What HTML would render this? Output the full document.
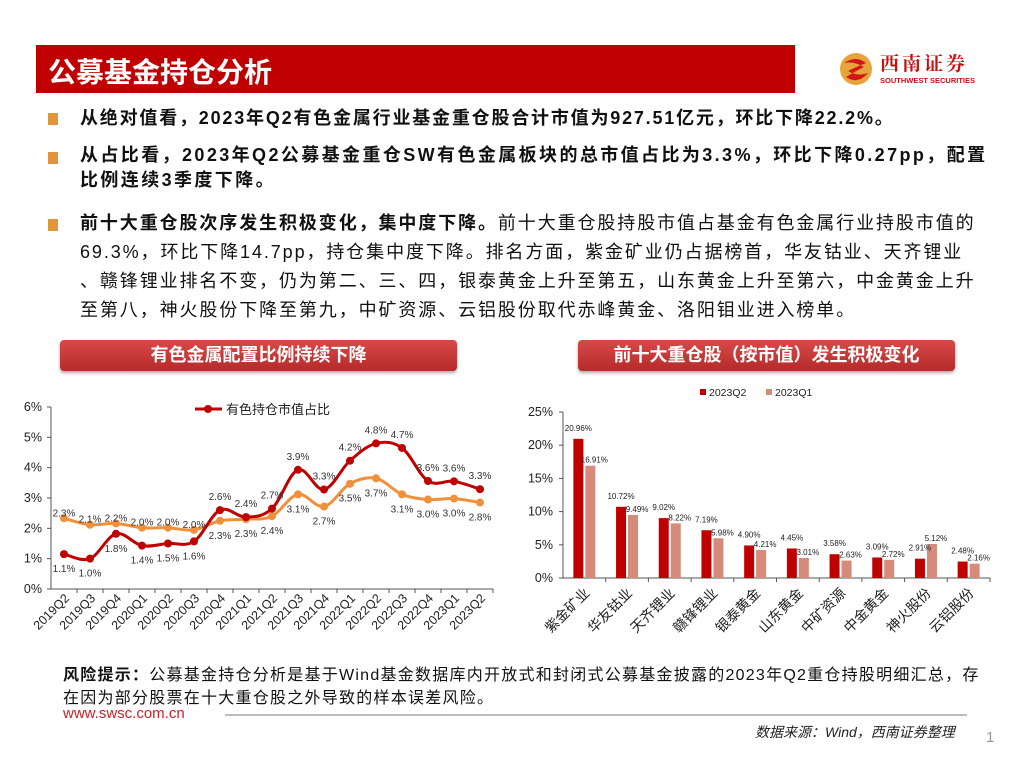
<!DOCTYPE html>
<html><head><meta charset="utf-8">
<style>
body{margin:0;width:1024px;height:768px;background:#fff;position:relative;overflow:hidden;font-family:"Liberation Sans","Noto Sans CJK SC",sans-serif;}
.abs{position:absolute;}
.title-bar{left:36px;top:45px;width:759px;height:48px;background:#c00000;}
.title-bar span{position:absolute;left:12px;top:6px;color:#fff;font-size:28px;font-weight:bold;}
.bullet{position:absolute;left:48px;width:10px;height:12px;background:#e0953a;}
.txt{position:absolute;left:80px;font-size:18px;color:#111;line-height:28px;white-space:nowrap;letter-spacing:1.6px;}
.b{font-weight:bold;}
.sec{position:absolute;top:340px;height:31px;border-radius:4px;background:linear-gradient(#d84a48,#b52a2a);box-shadow:0 2px 3px #aaa;color:#fff;font-weight:bold;font-size:18px;text-align:center;line-height:31px;}
</style></head><body>
<div class="abs title-bar"><span>公募基金持仓分析</span></div>
<div class="abs" style="left:838px;top:51px;width:150px;height:36px;">
<svg width="150" height="36"><circle cx="18" cy="18" r="16" fill="#e8a33a"/><path d="M6 12 Q18 4 28 12 Q18 16 10 20 Q20 26 30 22 Q20 34 8 26 Q18 20 26 16 Q16 10 6 12Z" fill="#d01818"/></svg>
<div class="abs" style="left:42px;top:-2px;color:#c81010;font-size:19px;font-weight:bold;font-family:'Noto Serif CJK SC',serif;letter-spacing:3px;">西南证券</div>
<div class="abs" style="left:42px;top:25px;color:#c81010;font-size:7.5px;font-weight:bold;white-space:nowrap;">SOUTHWEST SECURITIES</div>
</div>

<div class="bullet" style="top:113px"></div>
<div class="txt b" style="top:104px;letter-spacing:1.8px">从绝对值看，2023年Q2有色金属行业基金重仓股合计市值为927.51亿元，环比下降22.2%。</div>
<div class="bullet" style="top:152px"></div>
<div class="txt b" style="top:143px;line-height:25px;letter-spacing:2.4px">从占比看，2023年Q2公募基金重仓SW有色金属板块的总市值占比为3.3%，环比下降0.27pp，配置<br>比例连续3季度下降。</div>
<div class="bullet" style="top:219px"></div>
<div class="txt" style="top:209px;line-height:29px;letter-spacing:1.9px"><span class="b">前十大重仓股次序发生积极变化，集中度下降。</span>前十大重仓股持股市值占基金有色金属行业持股市值的<br>69.3%，环比下降14.7pp，持仓集中度下降。排名方面，紫金矿业仍占据榜首，华友钴业、天齐锂业<br>、赣锋锂业排名不变，仍为第二、三、四，银泰黄金上升至第五，山东黄金上升至第六，中金黄金上升<br>至第八，神火股份下降至第九，中矿资源、云铝股份取代赤峰黄金、洛阳钼业进入榜单。</div>

<div class="sec" style="left:60px;width:397px">有色金属配置比例持续下降</div>
<div class="sec" style="left:578px;width:377px">前十大重仓股（按市值）发生积极变化</div>

<svg class="abs" style="left:0;top:395px" width="510" height="260" id="lc"></svg>
<svg class="abs" style="left:510px;top:380px" width="500" height="275" id="bc"></svg>

<div class="abs" style="left:63px;top:664px;font-size:16px;line-height:23px;white-space:nowrap;letter-spacing:1.25px;color:#111"><span class="b">风险提示：</span>公募基金持仓分析是基于Wind基金数据库内开放式和封闭式公募基金披露的2023年Q2重仓持股明细汇总，存<br>在因为部分股票在十大重仓股之外导致的样本误差风险。</div>
<div class="abs" style="left:63px;top:705px;font-size:15px;color:#d0202a">www.swsc.com.cn</div>
<div class="abs" style="left:225px;top:714px;width:742px;height:2px;background:#bbb"></div>
<div class="abs" style="left:755px;top:722px;font-size:14px;font-style:italic;color:#222">数据来源：Wind，西南证券整理</div>
<div class="abs" style="left:986px;top:729px;font-size:15px;color:#999">1</div>

<script>
const lineCats=["2019Q2","2019Q3","2019Q4","2020Q1","2020Q2","2020Q3","2020Q4","2021Q1","2021Q2","2021Q3","2021Q4","2022Q1","2022Q2","2022Q3","2022Q4","2023Q1","2023Q2"];
const redVals=[1.15,1.0,1.82,1.43,1.5,1.57,2.6,2.37,2.65,3.93,3.28,4.23,4.8,4.65,3.56,3.55,3.29];
const redLabels=["1.1%","1.0%","1.8%","1.4%","1.5%","1.6%","2.6%","2.4%","2.7%","3.9%","3.3%","4.2%","4.8%","4.7%","3.6%","3.6%","3.3%"];
const orangeVals=[2.33,2.12,2.16,2.02,2.02,1.95,2.25,2.3,2.4,3.12,2.72,3.47,3.65,3.12,2.95,2.98,2.85];
const orangeLabels=["2.3%","2.1%","2.2%","2.0%","2.0%","2.0%","2.3%","2.3%","2.4%","3.1%","2.7%","3.5%","3.7%","3.1%","3.0%","3.0%","2.8%"];
const lineTicks=[0,1,2,3,4,5,6];

const barCats=["紫金矿业","华友钴业","天齐锂业","赣锋锂业","银泰黄金","山东黄金","中矿资源","中金黄金","神火股份","云铝股份"];
const q2Vals=[20.96,10.72,9.02,7.19,4.90,4.45,3.58,3.09,2.91,2.48];
const q1Vals=[16.91,9.49,8.22,5.98,4.21,3.01,2.63,2.72,5.12,2.16];
const barTicks=[0,5,10,15,20,25];

const NS="http://www.w3.org/2000/svg";
function mk(svg,tag,attrs,text){const e=document.createElementNS(NS,tag);for(const k in attrs)e.setAttribute(k,attrs[k]);if(text!==undefined)e.textContent=text;svg.appendChild(e);return e;}
function smooth(pts){let d="M"+pts[0][0]+","+pts[0][1];for(let i=0;i<pts.length-1;i++){const p0=pts[i-1]||pts[i],p1=pts[i],p2=pts[i+1],p3=pts[i+2]||p2;const t=0.17;d+=" C"+(p1[0]+(p2[0]-p0[0])*t)+","+(p1[1]+(p2[1]-p0[1])*t)+" "+(p2[0]-(p3[0]-p1[0])*t)+","+(p2[1]-(p3[1]-p1[1])*t)+" "+p2[0]+","+p2[1];}return d;}

// line chart
(function(){
const svg=document.getElementById('lc');
const x0=51,x1=493,yTop=12,yBot=194,max=6;
const bw=(x1-x0)/lineCats.length;
const X=i=>x0+bw*(i+0.5), Y=v=>yBot-(v/max)*(yBot-yTop);
let ax=mk(svg,'line',{x1:x0,y1:yTop,x2:x0,y2:yBot,stroke:'#555','stroke-width':1});

ax=mk(svg,'line',{x1:x0,y1:yBot,x2:x1,y2:yBot,stroke:'#555','stroke-width':1});

lineTicks.forEach(t=>{mk(svg,'line',{x1:x0-4,y1:Y(t),x2:x0,y2:Y(t),stroke:'#555'});
const e=mk(svg,'text',{x:x0-9,y:Y(t)+4,'text-anchor':'end','font-size':12.5,fill:'#222'},t+'%');
});
lineCats.forEach((c,i)=>{const tx=x0+bw*(i+1);mk(svg,'line',{x1:tx,y1:yBot,x2:tx,y2:yBot+4,stroke:'#555'});
const e=mk(svg,'text',{x:X(i)+6,y:yBot+10,'text-anchor':'end','font-size':12.5,fill:'#222',transform:'rotate(-45 '+(X(i)+6)+' '+(yBot+10)+')'},c);
});
const op=orangeVals.map((v,i)=>[X(i),Y(v)]), rp=redVals.map((v,i)=>[X(i),Y(v)]);
let p=mk(svg,'path',{d:smooth(op),fill:'none',stroke:'#f0903a','stroke-width':3});

op.forEach(q=>{const c=mk(svg,'circle',{cx:q[0],cy:q[1],r:4,fill:'#f0903a'});});
p=mk(svg,'path',{d:smooth(rp),fill:'none',stroke:'#c00000','stroke-width':3});

rp.forEach(q=>{const c=mk(svg,'circle',{cx:q[0],cy:q[1],r:4,fill:'#c00000'});});
lineCats.forEach((c,i)=>{
const rAbove=redVals[i]>=orangeVals[i];
let e=mk(svg,'text',{x:X(i),y:rAbove?Y(redVals[i])-10:Y(redVals[i])+18,'text-anchor':'middle','font-size':10,fill:'#333'},redLabels[i]);

e=mk(svg,'text',{x:X(i),y:rAbove?Y(orangeVals[i])+18:Y(orangeVals[i])-2,'text-anchor':'middle','font-size':10,fill:'#333'},orangeLabels[i]);
});
const lg=mk(svg,'line',{x1:195,y1:14,x2:222,y2:14,stroke:'#c00000','stroke-width':3});

mk(svg,'circle',{cx:208,cy:14,r:4,fill:'#c00000'});
const lt=mk(svg,'text',{x:226,y:19,'font-size':13,fill:'#222'},'有色持仓市值占比');

})();

// bar chart
(function(){
const svg=document.getElementById('bc');
const x0=53,x1=480,yTop=32,yBot=198,max=25;
const bw=(x1-x0)/barCats.length;
const Y=v=>yBot-(v/max)*(yBot-yTop);
let ax=mk(svg,'line',{x1:x0,y1:yTop,x2:x0,y2:yBot,stroke:'#555'});

ax=mk(svg,'line',{x1:x0,y1:yBot,x2:x1,y2:yBot,stroke:'#555'});

barTicks.forEach(t=>{mk(svg,'line',{x1:x0-4,y1:Y(t),x2:x0,y2:Y(t),stroke:'#555'});
const e=mk(svg,'text',{x:x0-10,y:Y(t)+4,'text-anchor':'end','font-size':12.5,fill:'#222'},t+'%');
});
barCats.forEach((c,i)=>{
const tx=x0+bw*(i+1);mk(svg,'line',{x1:tx,y1:yBot,x2:tx,y2:yBot+4,stroke:'#555'});
const cx=x0+bw*i+bw/2;
let r=mk(svg,'rect',{x:cx-11,y:Y(q2Vals[i]),width:10,height:yBot-Y(q2Vals[i]),fill:'#c00000'});

r=mk(svg,'rect',{x:cx+1,y:Y(q1Vals[i]),width:10,height:yBot-Y(q1Vals[i]),fill:'#d58a7a'});

let e=mk(svg,'text',{x:cx-6,y:Y(q2Vals[i])-8,'text-anchor':'middle','font-size':8,fill:'#222'},q2Vals[i].toFixed(2)+'%');

e=mk(svg,'text',{x:cx+10,y:Y(q1Vals[i])-3,'text-anchor':'middle','font-size':8,fill:'#222'},q1Vals[i].toFixed(2)+'%');

e=mk(svg,'text',{x:cx+6,y:yBot+16,'text-anchor':'end','font-size':14,fill:'#222',transform:'rotate(-45 '+(cx+6)+' '+(yBot+16)+')'},c);
});
let l=mk(svg,'rect',{x:190,y:9,width:6,height:6,fill:'#c00000'});
l=mk(svg,'text',{x:199,y:16,'font-size':10.5,fill:'#222'},'2023Q2');
l=mk(svg,'rect',{x:256,y:9,width:6,height:6,fill:'#d58a7a'});
l=mk(svg,'text',{x:265,y:16,'font-size':10.5,fill:'#222'},'2023Q1');
})();
</script>
</body></html>
